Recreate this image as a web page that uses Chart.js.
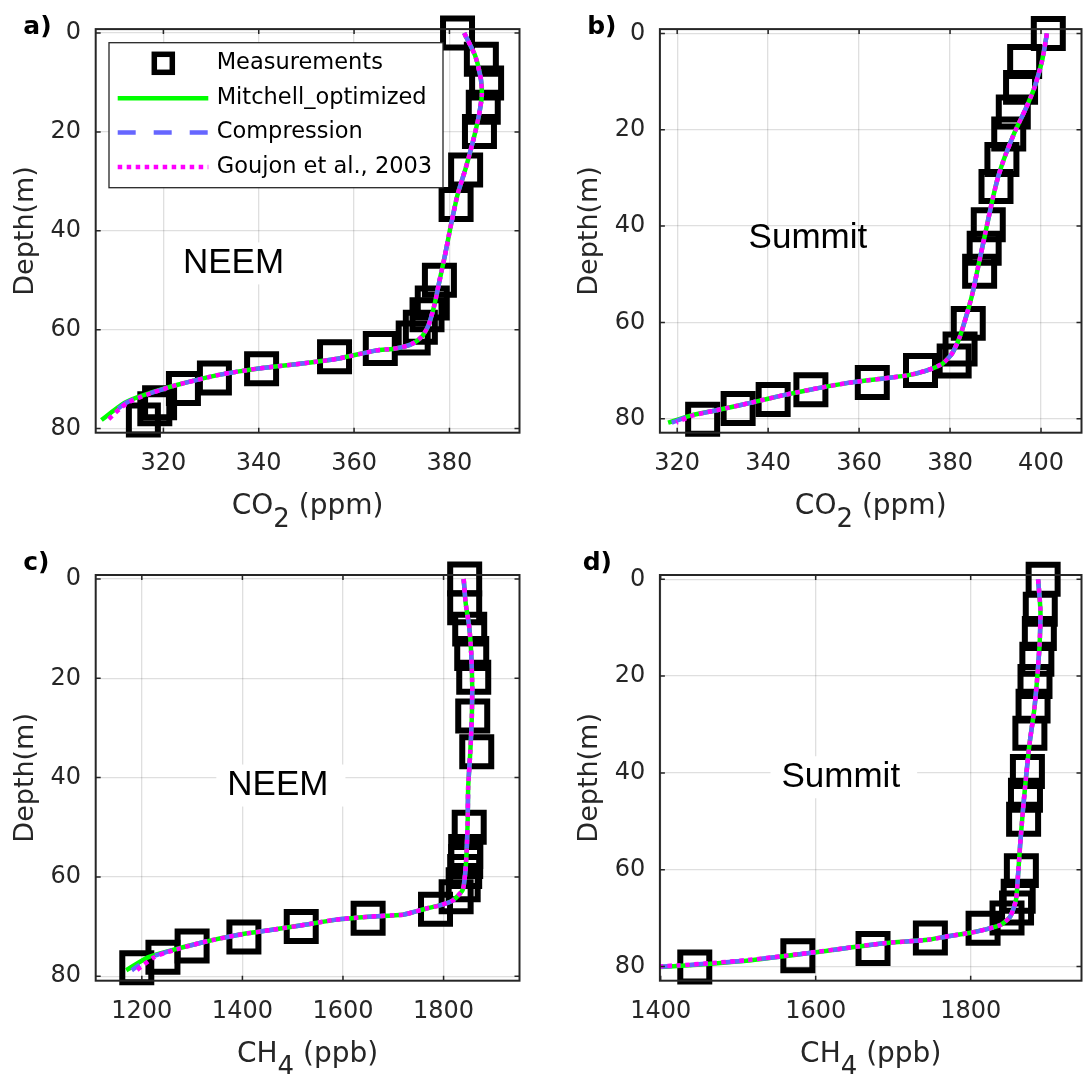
<!DOCTYPE html>
<html>
<head>
<meta charset="utf-8">
<script src="https://cdn.jsdelivr.net/npm/chart.js@4.4.1/dist/chart.umd.min.js"></script>
<style>
  html, body { margin: 0; padding: 0; background: #fff; overflow: hidden; }
  body { width: 1092px; height: 1074px; position: relative; }
  canvas { position: absolute; display: block; }
</style>
</head>
<body>
<canvas id="pa" width="546" height="545" style="left:0;top:0"></canvas>
<canvas id="pb" width="562" height="545" style="left:546px;top:0"></canvas>
<canvas id="pc" width="546" height="529" style="left:0;top:545px"></canvas>
<canvas id="pd" width="562" height="529" style="left:546px;top:545px"></canvas>
<script>
Chart.defaults.font.family = "'DejaVu Sans', sans-serif";
Chart.defaults.color = '#262626';

// a) NEEM CO2
const neemCo2Depth = [0, 5.3, 10.1, 15.0, 19.9, 27.7, 34.7, 50.0, 54.6, 57.0, 59.5, 61.7, 63.8, 65.5, 67.9, 69.8, 71.9, 74.8, 76.0, 78.3];
const neemCo2Meas  = [381.7, 386.7, 387.8, 387.1, 386.3, 383.4, 381.4, 377.9, 376.4, 375.3, 373.9, 372.4, 365.5, 355.9, 340.6, 330.7, 324.2, 319.2, 318.2, 315.8];
const neemCo2ModelDepth = [0, 4.6, 9.3, 12.6, 16.6, 21.3, 27.4, 32.7, 39.4, 44.8, 50.2, 54.8, 58.9, 61.2, 62.6, 63.4, 63.9, 64.2, 65.9, 66.8, 67.8, 69.1, 71.2, 73.2, 74.6, 75.9, 78.3];
const neemCo2Mitchell    = [383.1, 385.4, 386.6, 386.8, 386.2, 385.1, 383.4, 381.7, 380.2, 379.1, 377.9, 376.9, 375.7, 374.4, 372.7, 370.7, 368.1, 364.7, 356.5, 349.5, 340.4, 331.9, 322.8, 316.0, 312.3, 310.2, 307.0];
const neemCo2Compression = [383.1, 385.4, 386.6, 386.8, 386.2, 385.1, 383.4, 381.7, 380.2, 379.1, 377.9, 376.9, 375.7, 374.4, 372.7, 370.7, 368.1, 364.7, 356.5, 349.5, 340.4, 331.9, 322.8, 316.2, 312.6, 310.6, 307.6];
const neemCo2Goujon      = [383.1, 385.4, 386.6, 386.8, 386.2, 385.1, 383.4, 381.7, 380.2, 379.1, 377.9, 376.9, 375.7, 374.4, 372.7, 370.7, 368.1, 364.7, 356.5, 349.5, 340.4, 331.9, 322.8, 316.4, 312.9, 311.0, 308.3];

// b) Summit CO2
const summitCo2Depth = [0, 5.85, 11.2, 16.3, 20.9, 26.2, 31.8, 39.7, 44.6, 49.4, 60.2, 65.5, 68.0, 70.0, 72.5, 74.0, 76.0, 77.9, 80.1];
const summitCo2Meas  = [401.6, 396.4, 395.5, 393.9, 392.9, 391.4, 390.1, 388.4, 387.5, 386.5, 384.0, 382.2, 380.9, 373.5, 362.9, 349.4, 341.1, 333.4, 325.6];
const summitCo2ModelDepth = [0, 5.85, 11.4, 15.5, 20.3, 25.2, 30.0, 35.5, 41.7, 47.9, 54.1, 58.9, 63.1, 66.5, 68.6, 70.0, 71.0, 72.5, 73.7, 75.1, 76.7, 78.2, 79.3, 80.8];
const summitCo2Mitchell    = [401.3, 400.2, 398.5, 396.7, 394.3, 392.2, 390.5, 389.1, 387.7, 386.3, 384.9, 383.5, 382.1, 380.4, 378.3, 374.8, 370.6, 358.0, 350.7, 343.4, 336.1, 328.9, 323.1, 318.0];
const summitCo2Compression = [401.3, 400.2, 398.5, 396.7, 394.3, 392.2, 390.5, 389.1, 387.7, 386.3, 384.9, 383.5, 382.1, 380.4, 378.3, 374.8, 370.6, 358.0, 350.7, 343.4, 336.1, 328.9, 323.3, 318.8];
const summitCo2Goujon      = [401.3, 400.2, 398.5, 396.7, 394.3, 392.2, 390.5, 389.1, 387.7, 386.3, 384.9, 383.5, 382.1, 380.4, 378.3, 374.8, 370.6, 358.0, 350.7, 343.4, 336.1, 328.9, 323.5, 319.8];

// c) NEEM CH4
const neemCh4Depth = [0, 5.8, 10.1, 15.0, 19.8, 27.6, 34.8, 50.0, 54.9, 56.9, 58.9, 61.6, 64.0, 66.5, 68.3, 70.0, 72.1, 73.9, 76.2, 78.3];
const neemCh4Meas  = [1842, 1842, 1852, 1856, 1860, 1858, 1866, 1851, 1844, 1844, 1842, 1839, 1825, 1784, 1650, 1517, 1403, 1300, 1242, 1190];
const neemCh4ModelDepth = [0, 4.9, 9.6, 15.0, 21.7, 28.4, 35.1, 41.8, 48.5, 54.6, 59.3, 62.6, 64.7, 65.7, 66.3, 67.0, 67.6, 68.0, 68.6, 69.7, 70.7, 71.7, 73.1, 74.8, 76.2, 78.8];
const neemCh4Mitchell    = [1840, 1844, 1851, 1855, 1857, 1856, 1853, 1849, 1848, 1846, 1843, 1838, 1819, 1794, 1768, 1743, 1719, 1653, 1587, 1521, 1456, 1390, 1324, 1258, 1212, 1169];
const neemCh4Compression = [1840, 1844, 1851, 1855, 1857, 1856, 1853, 1849, 1848, 1846, 1843, 1838, 1819, 1794, 1768, 1743, 1719, 1653, 1587, 1521, 1456, 1390, 1324, 1260, 1218, 1180];
const neemCh4Goujon      = [1840, 1844, 1851, 1855, 1857, 1856, 1853, 1849, 1848, 1846, 1843, 1838, 1819, 1794, 1768, 1743, 1719, 1653, 1587, 1521, 1456, 1390, 1324, 1262, 1224, 1190];

// d) Summit CH4
const summitCh4Depth = [0, 6.2, 11.2, 16.5, 21.1, 26.2, 31.8, 39.7, 44.6, 49.6, 60.2, 65.5, 67.9, 70.0, 72.1, 74.1, 76.3, 77.8, 80.1];
const summitCh4Meas  = [1893.5, 1889.8, 1888.6, 1885.4, 1883.0, 1880.5, 1876.4, 1873.2, 1870.7, 1868.3, 1865.4, 1861.3, 1859.2, 1846.9, 1816, 1748, 1674, 1577, 1444];
const summitCh4ModelDepth = [0, 6.4, 13.2, 20.1, 27.0, 33.9, 40.8, 47.6, 54.5, 61.4, 66.2, 69.7, 71.4, 72.4, 73.1, 73.8, 74.5, 75.2, 77.0, 78.7, 79.8, 80.3];
const summitCh4Mitchell    = [1887, 1890, 1889, 1886, 1882, 1876, 1871.5, 1867.5, 1864, 1861, 1858.5, 1851, 1839, 1818, 1798, 1769, 1745, 1688, 1603, 1517, 1432, 1380];
const summitCh4Compression = [1887, 1890, 1889, 1886, 1882, 1876, 1871.5, 1867.5, 1864, 1861, 1858.5, 1851, 1839, 1818, 1798, 1769, 1745, 1688, 1603, 1515, 1428, 1372];
const summitCh4Goujon      = [1887, 1890, 1889, 1886, 1882, 1876, 1871.5, 1867.5, 1864, 1861, 1858.5, 1851, 1839, 1818, 1798, 1769, 1745, 1688, 1601, 1512, 1422, 1360];

// tick labels
const depthTicks = [0, 20, 40, 60, 80];
const co2TicksNeem = [320, 340, 360, 380];
const co2TicksSummit = [320, 340, 360, 380, 400];
const ch4TicksNeem = [1200, 1400, 1600, 1800];
const ch4TicksSummit = [1400, 1600, 1800];

const seriesNames = ['Measurements', 'Mitchell_optimized', 'Compression', 'Goujon et al., 2003'];

const pts = (xs, ys) => xs.map((x, i) => ({ x: x, y: ys[i] }));

function makeDatasets(meas, depth, m1, m2, m3, modelDepth) {
    return [
        {
            label: seriesNames[0], data: pts(meas, depth), showLine: false,
            pointStyle: 'rect', pointRadius: 20.5, pointBorderWidth: 6,
            pointBorderColor: '#000', pointBackgroundColor: 'rgba(0,0,0,0)',
            clip: false, order: 3
        },
        {
            label: seriesNames[1], data: pts(m1, modelDepth), showLine: true,
            borderColor: '#00ff00', borderWidth: 4.5, pointRadius: 0, tension: 0.2, order: 2
        },
        {
            label: seriesNames[2], data: pts(m2, modelDepth), showLine: true,
            borderColor: '#6666ff', borderWidth: 4.5, borderDash: [18, 18], pointRadius: 0, tension: 0.2, order: 1
        },
        {
            label: seriesNames[3], data: pts(m3, modelDepth), showLine: true,
            borderColor: '#ff00ff', borderWidth: 4.5, borderDash: [4.5, 4.5], pointRadius: 0, tension: 0.2, order: 0
        }
    ];
}

// frame, inward ticks, texts, legend
const decor = {
    id: 'decor',
    beforeDatasetsDraw(chart, args, o) {
        const ctx = chart.ctx;
        const x = chart.scales.x.getPixelForValue(o.site[0]);
        const y = chart.scales.y.getPixelForValue(o.site[1]);
        ctx.save();
        ctx.font = '35px "Liberation Sans", Arial, sans-serif';
        const w = ctx.measureText(o.site[2]).width;
        if (o.siteBox) {
            ctx.fillStyle = '#fff';
            ctx.fillRect(x - 11, y - 21, w + 28, 42);
        }
        ctx.fillStyle = '#000';
        ctx.textBaseline = 'middle';
        ctx.fillText(o.site[2], x, y);
        ctx.restore();
    },
    afterDatasetsDraw(chart, args, o) {
        const ctx = chart.ctx;
        const ca = chart.chartArea;
        const sx = chart.scales.x, sy = chart.scales.y;
        ctx.save();
        ctx.strokeStyle = '#262626';
        ctx.lineWidth = 1.5;
        ctx.beginPath();
        sx.ticks.forEach(t => {
            const p = sx.getPixelForValue(t.value);
            ctx.moveTo(p, ca.bottom); ctx.lineTo(p, ca.bottom - 5);
            ctx.moveTo(p, ca.top); ctx.lineTo(p, ca.top + 5);
        });
        sy.ticks.forEach(t => {
            const p = sy.getPixelForValue(t.value);
            ctx.moveTo(ca.left, p); ctx.lineTo(ca.left + 5, p);
            ctx.moveTo(ca.right, p); ctx.lineTo(ca.right - 5, p);
        });
        ctx.stroke();
        ctx.lineWidth = 2;
        ctx.strokeRect(ca.left, ca.top, ca.right - ca.left, ca.bottom - ca.top);

        if (o.legend) {
            const ds = chart.data.datasets;
            ctx.fillStyle = '#fff';
            ctx.fillRect(109, 42.7, 334, 145);
            ctx.lineWidth = 1.3;
            ctx.strokeStyle = '#262626';
            ctx.strokeRect(109, 42.7, 334, 145);
            const rows = [63.3, 98.3, 132.6, 167];
            ctx.strokeStyle = '#000';
            ctx.lineWidth = 5.5;
            ctx.strokeRect(163.3 - 9, rows[0] - 9, 18, 18);
            for (let i = 1; i < 4; i++) {
                ctx.strokeStyle = ds[i].borderColor;
                ctx.lineWidth = ds[i].borderWidth;
                ctx.setLineDash(ds[i].borderDash || []);
                ctx.beginPath();
                ctx.moveTo(117.7, rows[i]);
                ctx.lineTo(208.3, rows[i]);
                ctx.stroke();
            }
            ctx.setLineDash([]);
            ctx.fillStyle = '#000';
            ctx.font = '22.5px "DejaVu Sans"';
            ctx.textBaseline = 'middle';
            ds.forEach((d, i) => ctx.fillText(d.label, 216.7, rows[i]));
        }
        ctx.restore();
    },
    afterDraw(chart, args, o) {
        const ctx = chart.ctx;
        const ca = chart.chartArea;
        ctx.save();
        // panel letter
        ctx.fillStyle = '#000';
        ctx.font = 'bold 25px "DejaVu Sans"';
        ctx.textBaseline = 'middle';
        ctx.fillText(o.tag, o.tagPos[0], o.tagPos[1]);
        // y title
        ctx.fillStyle = '#262626';
        ctx.font = '27px "DejaVu Sans"';
        ctx.save();
        ctx.translate(o.yTitleX, (ca.top + ca.bottom) / 2);
        ctx.rotate(-Math.PI / 2);
        ctx.textAlign = 'center';
        ctx.fillText('Depth(m)', 0, 0);
        ctx.restore();
        // x title with subscript
        ctx.textBaseline = 'alphabetic';
        ctx.font = '28px "DejaVu Sans"';
        const w1 = ctx.measureText(o.xTitle[0]).width;
        const w3 = ctx.measureText(o.xTitle[2]).width;
        ctx.font = '26px "DejaVu Sans"';
        const w2 = ctx.measureText(o.xTitle[1]).width;
        let x = (ca.left + ca.right) / 2 - (w1 + w2 + w3) / 2;
        const base = ca.bottom + 81.3;
        ctx.font = '28px "DejaVu Sans"';
        ctx.fillText(o.xTitle[0], x, base);
        ctx.font = '26px "DejaVu Sans"';
        ctx.fillText(o.xTitle[1], x + w1, base + 12.5);
        ctx.font = '28px "DejaVu Sans"';
        ctx.fillText(o.xTitle[2], x + w1 + w2, base);
        ctx.restore();
    }
};

function makePanel(id, p) {
    const cv = document.getElementById(id);
    return new Chart(cv, {
        type: 'scatter',
        data: { datasets: p.datasets },
        options: {
            responsive: false,
            animation: false,
            events: [],
            layout: { padding: { left: 0, top: p.area[1], right: cv.width - p.area[2], bottom: 0 } },
            scales: {
                x: {
                    type: 'linear', min: p.xMin, max: p.xMax,
                    afterBuildTicks: s => { s.ticks = p.xTicks.map(v => ({ value: v })); },
                    afterFit: s => { s.height = cv.height - p.area[3]; },
                    ticks: { font: { size: 24 }, color: '#262626', padding: 16.2, maxRotation: 0, autoSkip: false, callback: v => String(v) },
                    grid: { color: 'rgba(38,38,38,0.15)', lineWidth: 1.3, drawTicks: false },
                    border: { display: false }
                },
                y: {
                    type: 'linear', reverse: true, min: p.yMin, max: p.yMax,
                    afterBuildTicks: s => { s.ticks = depthTicks.map(v => ({ value: v })); },
                    afterFit: s => { s.width = p.area[0]; },
                    ticks: { font: { size: 24 }, color: '#262626', padding: 14.7, autoSkip: false, callback: v => String(v) },
                    grid: { color: 'rgba(38,38,38,0.15)', lineWidth: 1.3, drawTicks: false },
                    border: { display: false }
                }
            },
            plugins: {
                legend: { display: false },
                tooltip: { enabled: false },
                decor: p.decor
            }
        },
        plugins: [decor]
    });
}

makePanel('pa', {
    area: [95.7, 26.7, 539.6, 432.7],
    xMin: 305.8, xMax: 394.7, yMin: -0.8, yMax: 80.85, xTicks: co2TicksNeem,
    datasets: makeDatasets(neemCo2Meas, neemCo2Depth, neemCo2Mitchell, neemCo2Compression, neemCo2Goujon, neemCo2ModelDepth),
    decor: { tag: 'a)', tagPos: [23.3, 27], yTitleX: 26.2, xTitle: ['CO', '2', ' (ppm)'], site: [324.1, 46.6, 'NEEM'], siteBox: true, legend: true }
});

makePanel('pb', {
    area: [113.9, 26.7, 557.8, 432.7],
    xMin: 316.2, xMax: 408.9, yMin: -0.9, yMax: 82.9, xTicks: co2TicksSummit,
    datasets: makeDatasets(summitCo2Meas, summitCo2Depth, summitCo2Mitchell, summitCo2Compression, summitCo2Goujon, summitCo2ModelDepth),
    decor: { tag: 'b)', tagPos: [41.2, 27], yTitleX: 43.7, xTitle: ['CO', '2', ' (ppm)'], site: [335.7, 42.6, 'Summit'], siteBox: false, legend: false }
});

makePanel('pc', {
    area: [95.7, 30, 539.6, 435.7],
    xMin: 1108.3, xMax: 1951, yMin: -0.8, yMax: 80.9, xTicks: ch4TicksNeem,
    datasets: makeDatasets(neemCh4Meas, neemCh4Depth, neemCh4Mitchell, neemCh4Compression, neemCh4Goujon, neemCh4ModelDepth),
    decor: { tag: 'c)', tagPos: [23.3, 18.5], yTitleX: 26.2, xTitle: ['CH', '4', ' (ppb)'], site: [1370, 41.6, 'NEEM'], siteBox: true, legend: false }
});

makePanel('pd', {
    area: [113.9, 30, 557.8, 435.7],
    xMin: 1399, xMax: 1943, yMin: -0.9, yMax: 82.95, xTicks: ch4TicksSummit,
    datasets: makeDatasets(summitCh4Meas, summitCh4Depth, summitCh4Mitchell, summitCh4Compression, summitCh4Goujon, summitCh4ModelDepth),
    decor: { tag: 'd)', tagPos: [36.7, 18.5], yTitleX: 43.7, xTitle: ['CH', '4', ' (ppb)'], site: [1555.9, 40.9, 'Summit'], siteBox: true, legend: false }
});
</script>
</body>
</html>
